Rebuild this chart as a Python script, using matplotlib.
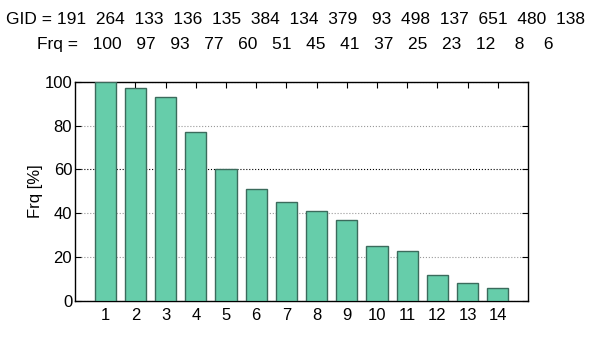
import numpy as np
import matplotlib
matplotlib.use("Agg")
import matplotlib.pyplot as plt

#%% data
gid = [191, 264, 133, 136, 135, 384, 134, 379, 93, 498, 137, 651, 480, 138]
frq = [100, 97, 93, 77, 60, 51, 45, 41, 37, 25, 23, 12, 8, 6]
rank = np.arange(1, len(frq) + 1)

plt.rcParams['font.family'] = ['Liberation Sans', 'DejaVu Sans']
fs = 12

fig = plt.figure(figsize=(5.9, 3.46), dpi=100)
ax = fig.add_axes([0.127, 0.130, 0.768, 0.634])

ax.bar(rank, frq, width=0.7, color='#66cdaa', edgecolor='#3b6b5c', linewidth=1, zorder=3)

ax.set_xlim(0, 15)
ax.set_ylim(0, 100)
ax.set_xticks(rank)
ax.set_yticks(np.arange(0, 101, 20))
ax.tick_params(direction='in', top=True, right=True, length=4, labelsize=fs)
ax.tick_params(axis='y', pad=2)
ax.tick_params(axis='x', pad=5)
ax.set_ylabel('Frq [%]', fontsize=fs, labelpad=1)

ax.yaxis.grid(True, linestyle=':', color='#999999', linewidth=0.8, zorder=0)
ax.get_ygridlines()[3].set_color('k')

for s in ax.spines.values():
    s.set_linewidth(1)

#%% header lines, num2str style padding
line1 = 'GID = ' + '  '.join('%3d' % g for g in gid)
line2 = 'Frq =   ' + '  '.join('%3d' % f for f in frq)
fig.text(0.5, 1 - 20 / 346, line1, ha='center', va='center', fontsize=12.5)
fig.text(0.5, 1 - 44 / 346, line2, ha='center', va='center', fontsize=12.5)

fig.savefig('out.png', dpi=100)
